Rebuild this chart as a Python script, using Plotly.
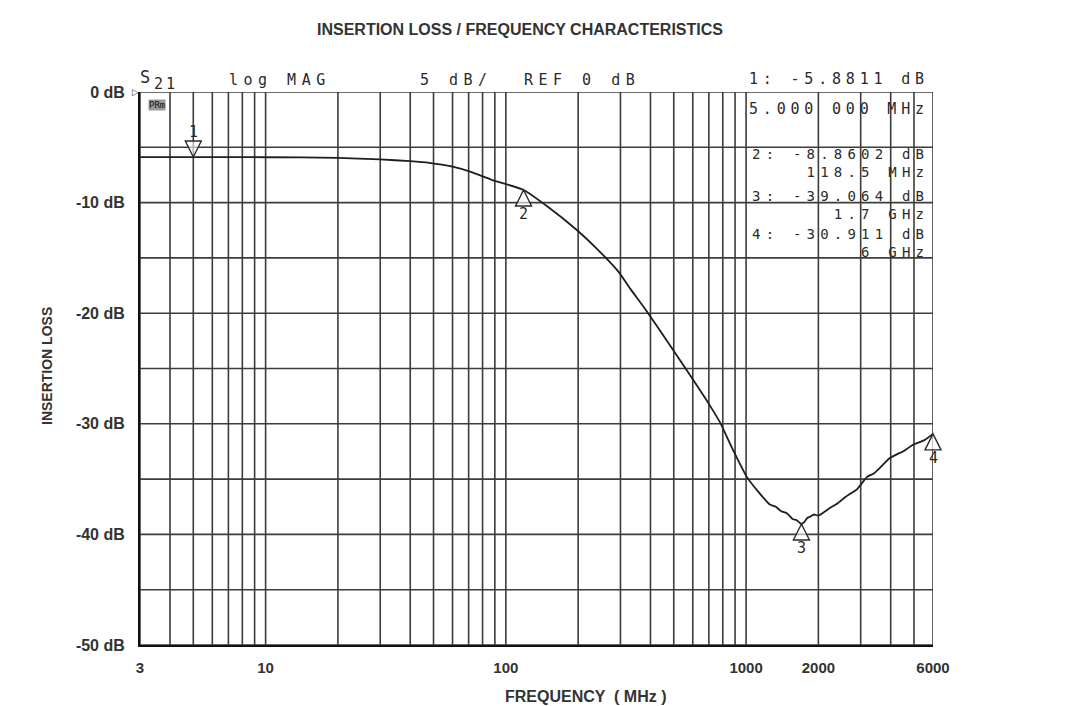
import numpy as np
import plotly.graph_objects as go

# ---------------- data ----------------
freq_mhz = [3, 5, 10, 20, 30, 40, 48, 60, 71, 88, 118.5, 150, 198, 240, 293, 330, 391,
            482, 601, 700, 780, 875, 1007, 1130, 1256, 1330, 1400, 1483, 1560,
            1620, 1700, 1760, 1800, 1846, 1920, 2000, 2240, 2400, 2600, 2900,
            3189, 3400, 3600, 3968, 4300, 4500, 4958, 5500, 6000]
loss_db = [-5.88, -5.88, -5.90, -5.95, -6.1, -6.25, -6.4, -6.75, -7.2, -7.96, -8.86, -10.4,
           -12.5, -14.2, -16.2, -17.8, -20.0, -22.9, -26.0, -28.2, -29.9, -32.2,
           -34.8, -36.2, -37.3, -37.5, -37.9, -38.1, -38.6, -38.7, -39.06, -38.8,
           -38.5, -38.4, -38.2, -38.3, -37.6, -37.2, -36.6, -35.9, -34.8, -34.5,
           -34.0, -33.1, -32.7, -32.5, -31.9, -31.5, -30.91]

marker_ids = ["1", "2", "3", "4"]
marker_freq = [5, 118.5, 1700, 6000]
marker_loss = [-5.8811, -8.8602, -39.064, -30.911]
marker_pointing = ["down", "up", "up", "up"]

marker_readout = [("1: -5.8811 dB", "5.000 000 MHz"),
                  ("2: -8.8602 dB", "118.5 MHz"),
                  ("3: -39.064 dB", "1.7 GHz"),
                  ("4: -30.911 dB", "6 GHz")]

header_items = ["log MAG", "5 dB/", "REF 0 dB"]

x_tick_vals = [3, 10, 100, 1000, 2000, 6000]
x_tick_text = ["3", "10", "100", "1000", "2000", "6000"]
y_tick_vals = [0, -10, -20, -30, -40, -50]
y_tick_text = ["0 dB", "-10 dB", "-20 dB", "-30 dB", "-40 dB", "-50 dB"]

freq_grid = [3, 4, 5, 6, 7, 8, 9, 10, 20, 30, 40, 50, 60, 70, 80, 90,
             100, 200, 300, 400, 500, 600, 700, 800, 900, 1000, 2000, 3000,
             4000, 5000, 6000]
loss_grid = [0, -5, -10, -15, -20, -25, -30, -35, -40, -45, -50]

X_MIN, X_MAX = 3, 6000
Y_MIN, Y_MAX = -50, 0

# ---------------- layout geometry ----------------
W, H = 1069, 706
L, R, T, B = 140, 136, 92, 61
PW, PH = W - L - R, H - T - B

def px_x(px):
    return (px - L) / PW

def px_y(py):
    return (H - B - py) / PH

def paper_from_freq(f):
    return (np.log10(f) - np.log10(X_MIN)) / (np.log10(X_MAX) - np.log10(X_MIN))

GRID = "#3c3c3c"
INK = "#2a2a2a"
MONO = "DejaVu Sans Mono"
SANS = "Liberation Sans, Arial, sans-serif"

def spaced(t, sp=4.5):
    return f'<span style="letter-spacing:{sp}px">{t}</span>'

fig = go.Figure()
fig.add_trace(go.Scatter(x=freq_mhz, y=loss_db, mode="lines",
                         line=dict(color="#1e1e1e", width=1.8, shape="spline", smoothing=0.5),
                         hoverinfo="skip", showlegend=False))

shapes = []
for f in freq_grid:
    shapes.append(dict(type="line", xref="x", yref="paper", x0=f, x1=f, y0=0, y1=1,
                       line=dict(color=GRID, width=1.6), layer="below"))
for v in loss_grid:
    shapes.append(dict(type="line", xref="paper", yref="y", x0=0, x1=1, y0=v, y1=v,
                       line=dict(color=GRID, width=1.6), layer="below"))

annotations = []
for mid, f, v, d in zip(marker_ids, marker_freq, marker_loss, marker_pointing):
    if d == "down":
        path = "M0,0 L-8,16 L8,16 Z"
        yshift = 25
    else:
        path = "M0,0 L-8,-16 L8,-16 Z"
        yshift = -24
    shapes.append(dict(type="path", xref="paper", yref="y",
                       xsizemode="pixel", ysizemode="pixel",
                       xanchor=paper_from_freq(f), yanchor=v, path=path,
                       line=dict(color=INK, width=1.4), fillcolor="rgba(255,255,255,0.6)",
                       layer="above"))
    annotations.append(dict(x=np.log10(f), y=v, xref="x", yref="y", text=mid,
                            showarrow=False, yshift=yshift,
                            font=dict(family=MONO, size=15, color=INK)))

# header line (analyzer plotter text)
annotations.append(dict(x=px_x(138), y=px_y(77), xref="paper", yref="paper", text="S",
                        showarrow=False, xanchor="left", yanchor="middle",
                        font=dict(family=MONO, size=17, color=INK)))
annotations.append(dict(x=px_x(152), y=px_y(84), xref="paper", yref="paper",
                        text=spaced("21", 3), showarrow=False, xanchor="left", yanchor="middle",
                        font=dict(family=MONO, size=15, color=INK)))
for txt, xpx in zip(header_items, [227, 418, 522]):
    annotations.append(dict(x=px_x(xpx), y=px_y(80), xref="paper", yref="paper",
                            text=spaced(txt, 5.5), showarrow=False, xanchor="left",
                            yanchor="middle", font=dict(family=MONO, size=15, color=INK)))

# marker readout block
first_top, first_bot = marker_readout[0]
annotations.append(dict(x=px_x(931), y=px_y(79), xref="paper", yref="paper",
                        text=spaced(first_top, 4.8), showarrow=False, xanchor="right",
                        yanchor="middle", font=dict(family=MONO, size=15, color=INK)))
annotations.append(dict(x=px_x(931), y=px_y(109), xref="paper", yref="paper",
                        text=spaced(first_bot, 4.8), showarrow=False, xanchor="right",
                        yanchor="middle", font=dict(family=MONO, size=15, color=INK)))
for (top, bot), yc in zip(marker_readout[1:], [163, 205, 243]):
    annotations.append(dict(x=px_x(931), y=px_y(yc), xref="paper", yref="paper",
                            text=spaced(top, 5.2) + "<br>" + spaced(bot, 5.2),
                            showarrow=False, xanchor="right", align="right",
                            yanchor="middle", font=dict(family=MONO, size=14, color=INK)))

# tiny status box and reference-level marker
annotations.append(dict(x=px_x(148), y=px_y(105), xref="paper", yref="paper", text="PRm",
                        showarrow=False, xanchor="left", yanchor="middle",
                        bgcolor="#9a9a9a", borderpad=0,
                        font=dict(family=MONO, size=9, color="#111")))
annotations.append(dict(x=0, y=0, xref="paper", yref="y", text="▷", showarrow=False,
                        xanchor="right", yanchor="middle", xshift=1,
                        font=dict(family="DejaVu Sans", size=9, color=INK)))

# titles
annotations.append(dict(x=px_x(520), y=px_y(29), xref="paper", yref="paper",
                        text="<b>INSERTION LOSS / FREQUENCY CHARACTERISTICS</b>",
                        showarrow=False, xanchor="center", yanchor="middle",
                        font=dict(family=SANS, size=16, color="#333")))
annotations.append(dict(x=px_x(585), y=px_y(696), xref="paper", yref="paper",
                        text="<b>FREQUENCY  ( MHz )</b>", showarrow=False,
                        xanchor="center", yanchor="middle",
                        font=dict(family=SANS, size=16, color="#333")))
annotations.append(dict(x=px_x(47), y=px_y(366), xref="paper", yref="paper",
                        text="<b>INSERTION LOSS</b>", showarrow=False, textangle=-90,
                        xanchor="center", yanchor="middle",
                        font=dict(family=SANS, size=14, color="#333")))

fig.update_layout(
    width=W, height=H,
    margin=dict(l=L, r=R, t=T, b=B),
    paper_bgcolor="white", plot_bgcolor="white",
    showlegend=False,
    shapes=shapes, annotations=annotations,
    xaxis=dict(type="log", range=[np.log10(X_MIN), np.log10(X_MAX)],
               tickvals=x_tick_vals, ticktext=[f"<b>{t}</b>" for t in x_tick_text],
               showgrid=False, zeroline=False, ticks="", ticklabelstandoff=8,
               showline=True, linecolor="#111", linewidth=2,
               tickfont=dict(family=SANS, size=15, color="#333")),
    yaxis=dict(range=[Y_MIN, Y_MAX], tickvals=y_tick_vals,
               ticktext=[f"<b>{t}</b>" for t in y_tick_text],
               showgrid=False, zeroline=False, ticks="", ticklabelstandoff=10,
               showline=True, linecolor="#111", linewidth=2,
               tickfont=dict(family=SANS, size=16, color="#333")),
)

fig.write_html("out.html", config={"displayModeBar": False},
               post_script="document.body.style.margin='0px';")
